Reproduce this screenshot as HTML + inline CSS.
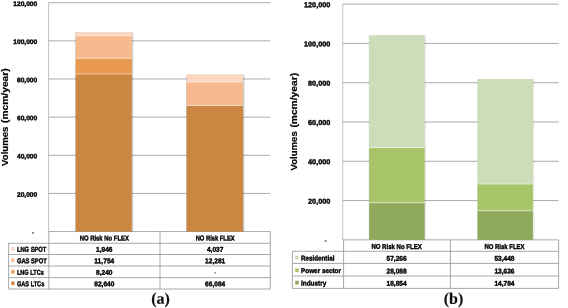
<!DOCTYPE html>
<html><head><meta charset="utf-8"><title>chart</title>
<style>
html,body{margin:0;padding:0;background:#fff;}
body{width:568px;height:308px;overflow:hidden;font-family:"Liberation Sans",sans-serif;}
svg{display:block;will-change:transform;filter:blur(0.3px)}
text{font-family:"Liberation Sans",sans-serif;font-weight:bold;fill:#000;stroke:#000;stroke-width:0.4px;}
.s{font-family:"Liberation Serif",serif;font-weight:bold;fill:#111;stroke:#111;stroke-width:0.15px;}
text.t{stroke-width:0.2px;}
</style></head><body>
<svg width="568" height="308" viewBox="0 0 568 308">
<rect width="568" height="308" fill="#fff"/>

<line x1="48.6" y1="2.7" x2="270.3" y2="2.7" stroke="#969696" stroke-width="0.8"/>
<line x1="48.6" y1="40.84" x2="270.3" y2="40.84" stroke="#969696" stroke-width="0.8"/>
<line x1="48.6" y1="78.98" x2="270.3" y2="78.98" stroke="#969696" stroke-width="0.8"/>
<line x1="48.6" y1="117.13" x2="270.3" y2="117.13" stroke="#969696" stroke-width="0.8"/>
<line x1="48.6" y1="155.27" x2="270.3" y2="155.27" stroke="#969696" stroke-width="0.8"/>
<line x1="48.6" y1="193.41" x2="270.3" y2="193.41" stroke="#969696" stroke-width="0.8"/>
<line x1="48.6" y1="231.55" x2="270.3" y2="231.55" stroke="#969696" stroke-width="0.8"/>
<line x1="48.6" y1="2.7" x2="48.6" y2="231.55" stroke="#b0b0b0" stroke-width="0.8"/>
<line x1="48.9" y1="231.55" x2="48.9" y2="289" stroke="#929292" stroke-width="0.8"/>
<text x="37.2" y="5.95" transform="rotate(0.05 37.2 5.95)" font-size="6.62" text-anchor="end">120,000</text>
<text x="37.2" y="44.09" transform="rotate(0.05 37.2 44.09)" font-size="6.62" text-anchor="end">100,000</text>
<text x="37.2" y="82.23" transform="rotate(0.05 37.2 82.23)" font-size="6.62" text-anchor="end">80,000</text>
<text x="37.2" y="120.38" transform="rotate(0.05 37.2 120.38)" font-size="6.62" text-anchor="end">60,000</text>
<text x="37.2" y="158.52" transform="rotate(0.05 37.2 158.52)" font-size="6.62" text-anchor="end">40,000</text>
<text x="37.2" y="196.66" transform="rotate(0.05 37.2 196.66)" font-size="6.62" text-anchor="end">20,000</text>
<rect x="31.9" y="232.4" width="1.9" height="1" fill="#222"/>
<text class="t" transform="translate(7.7 165.9) rotate(-90)" font-size="8.8" textLength="39.3" lengthAdjust="spacingAndGlyphs">Volumes</text>
<text class="t" transform="translate(7.7 123) rotate(-90)" font-size="8.8" textLength="54.7" lengthAdjust="spacingAndGlyphs">(mcm/year)</text>
<rect x="75.2" y="32.41" width="58" height="199.14" fill="#000" opacity="0.2"/>
<rect x="75.7" y="73.95" width="56.1" height="157.6" fill="#CB8641"/>
<rect x="75.7" y="58.23" width="56.1" height="15.71" fill="#EA9A50"/>
<rect x="75.7" y="35.82" width="56.1" height="22.42" fill="#F9B98E"/>
<rect x="75.7" y="32.11" width="56.1" height="3.71" fill="#FBD6C1"/>
<line x1="75.7" y1="73.95" x2="131.8" y2="73.95" stroke="#fff" stroke-opacity="0.75" stroke-width="0.7"/>
<line x1="75.7" y1="58.23" x2="131.8" y2="58.23" stroke="#fff" stroke-opacity="0.75" stroke-width="0.7"/>
<line x1="75.7" y1="35.82" x2="131.8" y2="35.82" stroke="#fff" stroke-opacity="0.75" stroke-width="0.7"/>
<rect x="186.1" y="74.7" width="58.3" height="156.85" fill="#000" opacity="0.2"/>
<rect x="186.6" y="105.52" width="56.4" height="126.03" fill="#CB8641"/>
<rect x="186.6" y="82.1" width="56.4" height="23.42" fill="#F9B98E"/>
<rect x="186.6" y="74.4" width="56.4" height="7.7" fill="#FBD6C1"/>
<line x1="186.6" y1="105.52" x2="243" y2="105.52" stroke="#fff" stroke-opacity="0.75" stroke-width="0.7"/>
<line x1="186.6" y1="82.1" x2="243" y2="82.1" stroke="#fff" stroke-opacity="0.75" stroke-width="0.7"/>
<line x1="8.6" y1="243.25" x2="270.3" y2="243.25" stroke="#929292" stroke-width="0.8"/>
<line x1="8.6" y1="254.5" x2="270.3" y2="254.5" stroke="#929292" stroke-width="0.8"/>
<line x1="8.6" y1="266" x2="270.3" y2="266" stroke="#929292" stroke-width="0.8"/>
<line x1="8.6" y1="277.6" x2="270.3" y2="277.6" stroke="#929292" stroke-width="0.8"/>
<line x1="8.6" y1="289" x2="270.3" y2="289" stroke="#929292" stroke-width="0.8"/>
<line x1="8.6" y1="243.25" x2="8.6" y2="289" stroke="#929292" stroke-width="0.8"/>
<line x1="160" y1="231.55" x2="160" y2="289" stroke="#929292" stroke-width="0.8"/>
<line x1="270.3" y1="231.55" x2="270.3" y2="289" stroke="#929292" stroke-width="0.8"/>
<text x="104.3" y="240.5" transform="rotate(0.05 104.3 240.5)" font-size="7.1" text-anchor="middle" textLength="49.2" lengthAdjust="spacingAndGlyphs">NO Risk No FLEX</text>
<text x="215.15" y="240.5" transform="rotate(0.05 215.15 240.5)" font-size="7.1" text-anchor="middle" textLength="39" lengthAdjust="spacingAndGlyphs">NO Risk FLEX</text>
<rect x="11.3" y="246.95" width="3.2" height="3.6" fill="#FBD6C1"/>
<text x="16.9" y="251.75" transform="rotate(0.05 16.9 251.75)" font-size="7.1" textLength="29.4" lengthAdjust="spacingAndGlyphs">LNG SPOT</text>
<text x="104.3" y="251.75" transform="rotate(0.05 104.3 251.75)" font-size="6.9" text-anchor="middle" textLength="16.42" lengthAdjust="spacingAndGlyphs">1,946</text>
<text x="215.15" y="251.75" transform="rotate(0.05 215.15 251.75)" font-size="6.9" text-anchor="middle" textLength="16.42" lengthAdjust="spacingAndGlyphs">4,037</text>
<rect x="11.3" y="258.45" width="3.2" height="3.6" fill="#F9B98E"/>
<text x="16.9" y="263.25" transform="rotate(0.05 16.9 263.25)" font-size="7.1" textLength="29.8" lengthAdjust="spacingAndGlyphs">GAS SPOT</text>
<text x="104.3" y="263.25" transform="rotate(0.05 104.3 263.25)" font-size="6.9" text-anchor="middle" textLength="20.1" lengthAdjust="spacingAndGlyphs">11,754</text>
<text x="215.15" y="263.25" transform="rotate(0.05 215.15 263.25)" font-size="6.9" text-anchor="middle" textLength="20.1" lengthAdjust="spacingAndGlyphs">12,281</text>
<rect x="11.3" y="270.05" width="3.2" height="3.6" fill="#EA9A50"/>
<text x="16.9" y="274.85" transform="rotate(0.05 16.9 274.85)" font-size="7.1" textLength="27.0" lengthAdjust="spacingAndGlyphs">LNG LTCs</text>
<text x="104.3" y="274.85" transform="rotate(0.05 104.3 274.85)" font-size="6.9" text-anchor="middle" textLength="16.42" lengthAdjust="spacingAndGlyphs">8,240</text>
<rect x="214.55" y="272.35" width="1.2" height="1.1" fill="#222"/>
<rect x="11.3" y="281.45" width="3.2" height="3.6" fill="#CB8641"/>
<text x="16.9" y="286.25" transform="rotate(0.05 16.9 286.25)" font-size="7.1" textLength="27.4" lengthAdjust="spacingAndGlyphs">GAS LTCs</text>
<text x="104.3" y="286.25" transform="rotate(0.05 104.3 286.25)" font-size="6.9" text-anchor="middle" textLength="20.1" lengthAdjust="spacingAndGlyphs">82,640</text>
<text x="215.15" y="286.25" transform="rotate(0.05 215.15 286.25)" font-size="6.9" text-anchor="middle" textLength="20.1" lengthAdjust="spacingAndGlyphs">66,084</text>
<text class="s" x="160.5" y="303.8" transform="rotate(0.05 160.5 303.8)" text-anchor="middle" font-size="16">(a)</text>
<line x1="342.7" y1="4.15" x2="558.6" y2="4.15" stroke="#969696" stroke-width="0.8"/>
<line x1="342.7" y1="43.43" x2="558.6" y2="43.43" stroke="#969696" stroke-width="0.8"/>
<line x1="342.7" y1="82.72" x2="558.6" y2="82.72" stroke="#969696" stroke-width="0.8"/>
<line x1="342.7" y1="122" x2="558.6" y2="122" stroke="#969696" stroke-width="0.8"/>
<line x1="342.7" y1="161.28" x2="558.6" y2="161.28" stroke="#969696" stroke-width="0.8"/>
<line x1="342.7" y1="200.57" x2="558.6" y2="200.57" stroke="#969696" stroke-width="0.8"/>
<line x1="342.7" y1="239.85" x2="558.6" y2="239.85" stroke="#969696" stroke-width="0.8"/>
<line x1="342.7" y1="4.15" x2="342.7" y2="239.85" stroke="#b0b0b0" stroke-width="0.8"/>
<line x1="343.6" y1="239.85" x2="343.6" y2="288.4" stroke="#929292" stroke-width="0.8"/>
<text x="330.3" y="7.25" transform="rotate(0.05 330.3 7.25)" font-size="7.28" text-anchor="end">120,000</text>
<text x="330.3" y="46.53" transform="rotate(0.05 330.3 46.53)" font-size="7.28" text-anchor="end">100,000</text>
<text x="330.3" y="85.82" transform="rotate(0.05 330.3 85.82)" font-size="7.28" text-anchor="end">80,000</text>
<text x="330.3" y="125.1" transform="rotate(0.05 330.3 125.1)" font-size="7.28" text-anchor="end">60,000</text>
<text x="330.3" y="164.38" transform="rotate(0.05 330.3 164.38)" font-size="7.28" text-anchor="end">40,000</text>
<text x="330.3" y="203.67" transform="rotate(0.05 330.3 203.67)" font-size="7.28" text-anchor="end">20,000</text>
<rect x="324.7" y="240.5" width="1.9" height="1" fill="#222"/>
<text class="t" transform="translate(296.5 170.5) rotate(-90)" font-size="8.8" textLength="39.3" lengthAdjust="spacingAndGlyphs">Volumes</text>
<text class="t" transform="translate(296.5 127.6) rotate(-90)" font-size="8.8" textLength="54.7" lengthAdjust="spacingAndGlyphs">(mcm/year)</text>
<rect x="368.6" y="35.47" width="57.5" height="204.38" fill="#000" opacity="0.08"/>
<rect x="369.1" y="202.82" width="55.6" height="37.03" fill="#8EA95A"/>
<rect x="369.1" y="147.65" width="55.6" height="55.17" fill="#A7C468"/>
<rect x="369.1" y="35.17" width="55.6" height="112.48" fill="#CDDCB9"/>
<line x1="369.1" y1="202.82" x2="424.7" y2="202.82" stroke="#fff" stroke-opacity="0.75" stroke-width="0.7"/>
<line x1="369.1" y1="147.65" x2="424.7" y2="147.65" stroke="#fff" stroke-opacity="0.75" stroke-width="0.7"/>
<rect x="477" y="79.35" width="57.3" height="160.5" fill="#000" opacity="0.08"/>
<rect x="477.5" y="210.81" width="55.4" height="29.04" fill="#8EA95A"/>
<rect x="477.5" y="184.03" width="55.4" height="26.78" fill="#A7C468"/>
<rect x="477.5" y="79.05" width="55.4" height="104.98" fill="#CDDCB9"/>
<line x1="477.5" y1="210.81" x2="532.9" y2="210.81" stroke="#fff" stroke-opacity="0.75" stroke-width="0.7"/>
<line x1="477.5" y1="184.03" x2="532.9" y2="184.03" stroke="#fff" stroke-opacity="0.75" stroke-width="0.7"/>
<line x1="292.4" y1="251.25" x2="558.6" y2="251.25" stroke="#929292" stroke-width="0.8"/>
<line x1="292.4" y1="263.4" x2="558.6" y2="263.4" stroke="#929292" stroke-width="0.8"/>
<line x1="292.4" y1="276" x2="558.6" y2="276" stroke="#929292" stroke-width="0.8"/>
<line x1="292.4" y1="288.4" x2="558.6" y2="288.4" stroke="#929292" stroke-width="0.8"/>
<line x1="292.4" y1="251.25" x2="292.4" y2="288.4" stroke="#929292" stroke-width="0.8"/>
<line x1="450.4" y1="239.85" x2="450.4" y2="288.4" stroke="#929292" stroke-width="0.8"/>
<line x1="558.6" y1="239.85" x2="558.6" y2="288.4" stroke="#929292" stroke-width="0.8"/>
<text x="396.55" y="248.9" transform="rotate(0.05 396.55 248.9)" font-size="6.95" text-anchor="middle" textLength="50.3" lengthAdjust="spacingAndGlyphs">NO Risk No FLEX</text>
<text x="504.5" y="248.9" transform="rotate(0.05 504.5 248.9)" font-size="6.95" text-anchor="middle" textLength="40" lengthAdjust="spacingAndGlyphs">NO Risk FLEX</text>
<rect x="295.2" y="255.8" width="3.5" height="3.7" fill="#CDDCB9"/>
<text x="301" y="260.4" transform="rotate(0.05 301 260.4)" font-size="6.95" textLength="33.4" lengthAdjust="spacingAndGlyphs">Residential</text>
<text x="396.55" y="260.85" transform="rotate(0.05 396.55 260.85)" font-size="7.0" text-anchor="middle" textLength="20.1" lengthAdjust="spacingAndGlyphs">57,266</text>
<text x="504.5" y="260.85" transform="rotate(0.05 504.5 260.85)" font-size="7.0" text-anchor="middle" textLength="20.1" lengthAdjust="spacingAndGlyphs">53,448</text>
<rect x="295.2" y="268.4" width="3.5" height="3.7" fill="#A7C468"/>
<text x="301" y="273" transform="rotate(0.05 301 273)" font-size="6.95" textLength="40.0" lengthAdjust="spacingAndGlyphs">Power sector</text>
<text x="396.55" y="273.45" transform="rotate(0.05 396.55 273.45)" font-size="7.0" text-anchor="middle" textLength="20.1" lengthAdjust="spacingAndGlyphs">28,088</text>
<text x="504.5" y="273.45" transform="rotate(0.05 504.5 273.45)" font-size="7.0" text-anchor="middle" textLength="20.1" lengthAdjust="spacingAndGlyphs">13,636</text>
<rect x="295.2" y="280.8" width="3.5" height="3.7" fill="#8EA95A"/>
<text x="301" y="285.4" transform="rotate(0.05 301 285.4)" font-size="6.95" textLength="25.3" lengthAdjust="spacingAndGlyphs">Industry</text>
<text x="396.55" y="285.85" transform="rotate(0.05 396.55 285.85)" font-size="7.0" text-anchor="middle" textLength="20.1" lengthAdjust="spacingAndGlyphs">18,854</text>
<text x="504.5" y="285.85" transform="rotate(0.05 504.5 285.85)" font-size="7.0" text-anchor="middle" textLength="20.1" lengthAdjust="spacingAndGlyphs">14,784</text>
<text class="s" x="453.5" y="303.8" transform="rotate(0.05 453.5 303.8)" text-anchor="middle" font-size="16">(b)</text>
</svg></body></html>
